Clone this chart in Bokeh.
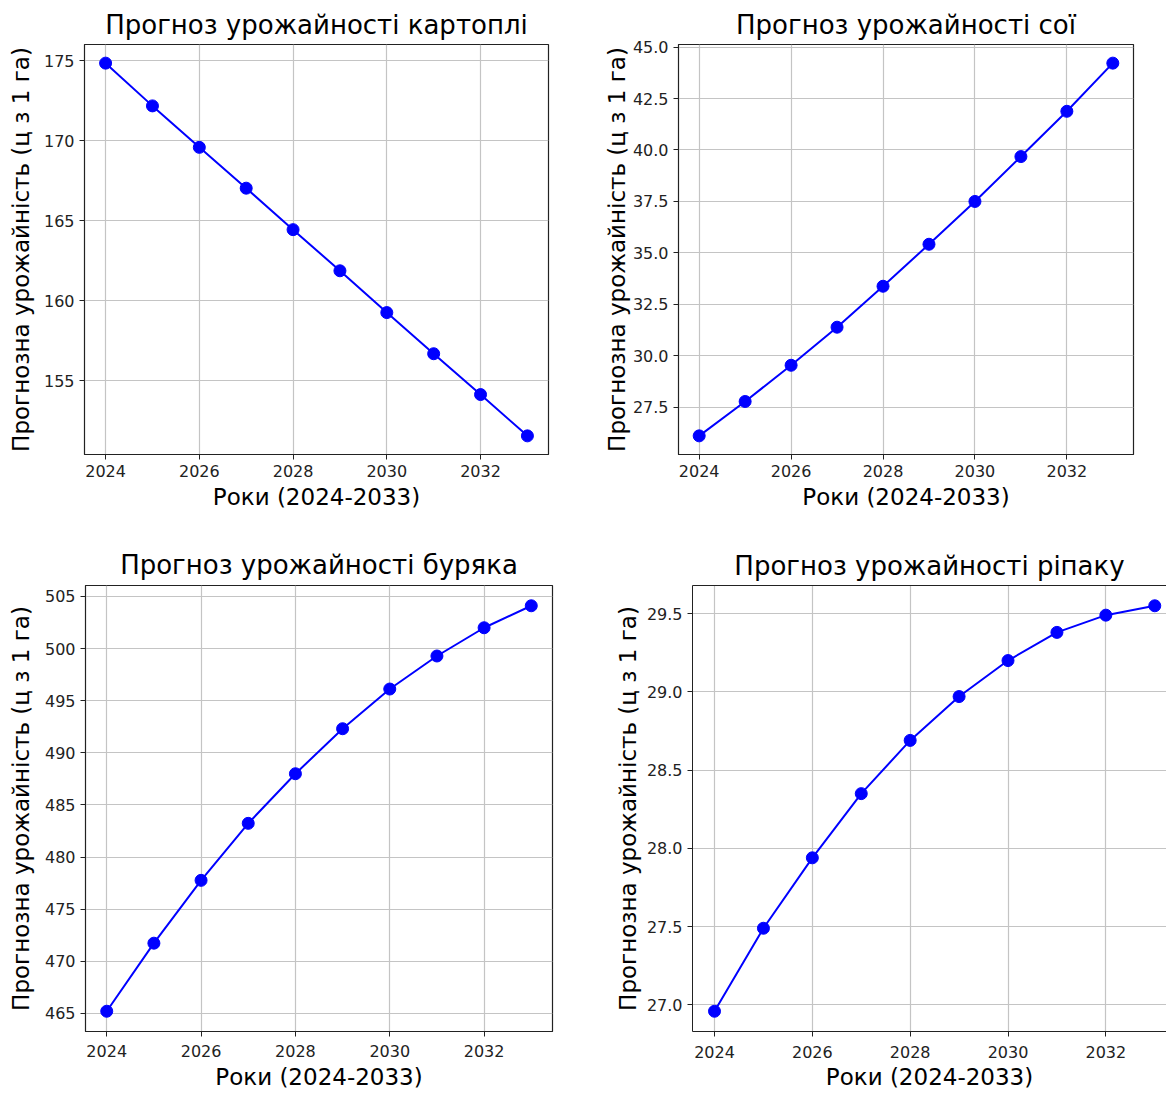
from bokeh.plotting import figure
from bokeh.layouts import column, row
from bokeh.models import Range1d, FixedTicker, NumeralTickFormatter, LinearAxis
from bokeh.embed import file_html
from bokeh.resources import INLINE

# ---------------- data ----------------
years = [2024, 2025, 2026, 2027, 2028, 2029, 2030, 2031, 2032, 2033]

potato = [174.85, 172.18, 169.59, 167.04, 164.45, 161.88, 159.27, 156.70, 154.15, 151.57]
soy = [26.11, 27.78, 29.54, 31.39, 33.38, 35.42, 37.50, 39.68, 41.88, 44.22]
beet = [465.20, 471.73, 477.76, 483.23, 487.99, 492.31, 496.12, 499.29, 502.00, 504.11]
rapeseed = [26.96, 27.49, 27.94, 28.35, 28.69, 28.97, 29.20, 29.38, 29.49, 29.55]

x_ticks = [2024, 2026, 2028, 2030, 2032]
potato_ticks = [155, 160, 165, 170, 175]
soy_ticks = [27.5, 30.0, 32.5, 35.0, 37.5, 40.0, 42.5, 45.0]
beet_ticks = [465, 470, 475, 480, 485, 490, 495, 500, 505]
rapeseed_ticks = [27.0, 27.5, 28.0, 28.5, 29.0, 29.5]

title_potato = "Прогноз урожайності картоплі"
title_soy = "Прогноз урожайності сої"
title_beet = "Прогноз урожайності буряка"
title_rapeseed = "Прогноз урожайності ріпаку"
x_label = "Роки (2024-2033)"
y_label = "Прогнозна урожайність (ц з 1 га)"

FONT = "DejaVu Sans"


def make(title, values, yticks, fmt, width, height, bl, br, bt, bb,
         x_end=None, ylab_standoff=5, title_standoff=9, tick_standoff=5,
         xlab_standoff=4, outline=True):
    lo, hi = min(values), max(values)
    pad = (hi - lo) * 0.05
    xpad = (max(years) - min(years)) * 0.05
    p = figure(width=width, height=height, output_backend="svg",
               toolbar_location=None, title=title,
               x_range=Range1d(min(years) - xpad,
                               x_end if x_end is not None else max(years) + xpad),
               y_range=Range1d(lo - pad, hi + pad),
               min_border_left=bl, min_border_right=br,
               min_border_top=bt, min_border_bottom=bb)
    p.title.text_font = FONT
    p.title.text_font_size = "26px"
    p.title.text_font_style = "normal"
    p.title.text_color = "black"
    p.title.align = "center"
    p.title.standoff = title_standoff

    p.xaxis.ticker = FixedTicker(ticks=x_ticks)
    p.yaxis.ticker = FixedTicker(ticks=yticks)
    if fmt:
        p.yaxis.formatter = NumeralTickFormatter(format=fmt)
    for ax in p.axis:
        ax.major_tick_in = 0
        ax.major_tick_out = 5
        ax.minor_tick_line_color = None
        ax.axis_line_color = "#222222"
        ax.major_tick_line_color = "#222222"
        ax.major_label_text_font = FONT
        ax.major_label_text_font_size = "16px"
        ax.major_label_text_color = "#222222"
        ax.axis_label_text_font = FONT
        ax.axis_label_text_font_size = "23px"
        ax.axis_label_text_font_style = "normal"
        ax.axis_label_text_color = "black"
    p.xaxis.axis_label = x_label
    p.yaxis.axis_label = y_label
    p.yaxis.axis_label_standoff = ylab_standoff
    p.xaxis.axis_label_standoff = xlab_standoff
    p.xaxis.major_label_standoff = tick_standoff

    p.grid.grid_line_color = "#c4c4c4"
    p.grid.grid_line_width = 1.2

    if outline:
        p.outline_line_color = "#222222"
        p.outline_line_width = 1.2
        p.outline_line_alpha = 1.0
    else:
        p.outline_line_color = None
        top = LinearAxis(ticker=FixedTicker(ticks=[]),
                         major_tick_out=0, major_tick_in=0,
                         major_label_standoff=0, axis_label_standoff=0,
                         major_tick_line_color=None,
                         minor_tick_line_color=None,
                         axis_line_color="#222222",
                         axis_line_width=1.2)
        p.add_layout(top, "above")

    p.line(years, values, line_color="#0000ff", line_width=2)
    p.scatter(years, values, size=12, fill_color="#0000ff", line_color="#0000ff")
    return p


p1 = make(title_potato, potato, potato_ticks, None, 592, 531, 84, 44, 43, 77,
          ylab_standoff=7, title_standoff=10)
p2 = make(title_soy, soy, soy_ticks, "0.0", 574, 531, 86, 33, 44, 75,
          ylab_standoff=0, title_standoff=10)
p3 = make(title_beet, beet, beet_ticks, None, 600, 562, 85, 48, 54, 62,
          ylab_standoff=8, title_standoff=12, tick_standoff=8, xlab_standoff=4)
p4 = make(title_rapeseed, rapeseed, rapeseed_ticks, "0.0", 566, 562, 92, 0, 52, 61,
          x_end=2033.24, ylab_standoff=3, title_standoff=10, tick_standoff=9,
          xlab_standoff=3, outline=False)

layout = column(row(p1, p2, spacing=0), row(p3, p4, spacing=0), spacing=0)

open("out.html", "w").write(file_html(layout, INLINE))
